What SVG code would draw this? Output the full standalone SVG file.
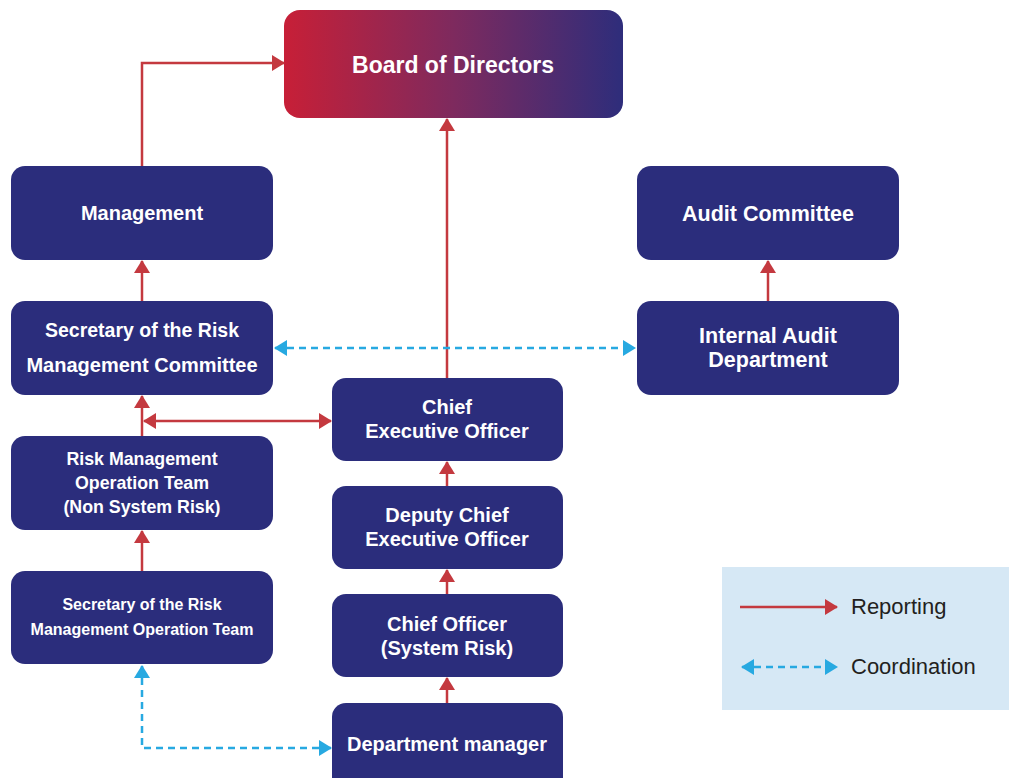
<svg xmlns="http://www.w3.org/2000/svg" width="1009" height="778" viewBox="0 0 1009 778">
<defs>
<linearGradient id="bod" x1="0" y1="0" x2="1" y2="0">
<stop offset="0" stop-color="#C71F37"/>
<stop offset="0.5" stop-color="#7E2A5E"/>
<stop offset="1" stop-color="#2E2D7B"/>
</linearGradient>
<marker id="ar" markerUnits="userSpaceOnUse" markerWidth="14" markerHeight="16" refX="12" refY="8" orient="auto-start-reverse" viewBox="0 0 14 16">
<path d="M0,0 L13,8 L0,16 Z" fill="#C4393F"/>
</marker>
<marker id="ab" markerUnits="userSpaceOnUse" markerWidth="14" markerHeight="16" refX="12" refY="8" orient="auto-start-reverse" viewBox="0 0 14 16">
<path d="M0,0 L13,8 L0,16 Z" fill="#27A9E1"/>
</marker>
</defs>
<style>
.box{fill:#2B2D7C}
.t{font-family:"Liberation Sans",Arial,sans-serif;font-weight:bold;fill:#fff;text-anchor:middle}
.rep{fill:none;stroke:#C4393F;stroke-width:2.5}
.coo{fill:none;stroke:#27A9E1;stroke-width:2.5;stroke-dasharray:7,5}
.lg{font-family:"Liberation Sans",Arial,sans-serif;font-size:22px;fill:#231F20}
</style>
<rect width="1009" height="778" fill="#fff"/>
<g id="board"><rect x="284" y="10" width="339" height="108" rx="16" fill="url(#bod)"/><text class="t" x="453" y="73" font-size="23">Board of Directors</text></g>
<g id="management"><rect class="box" x="11" y="166" width="262" height="94" rx="14"/><text class="t" x="142" y="220" font-size="20">Management</text></g>
<g id="audit-committee"><rect class="box" x="637" y="166" width="262" height="94" rx="14"/><text class="t" x="768" y="221" font-size="21.5">Audit Committee</text></g>
<g id="sec-rmc"><rect class="box" x="11" y="301" width="262" height="94" rx="14"/><text class="t" x="142" y="337" font-size="19.5">Secretary of the Risk</text><text class="t" x="142" y="372" font-size="20">Management Committee</text></g>
<g id="internal-audit"><rect class="box" x="637" y="301" width="262" height="94" rx="14"/><text class="t" x="768" y="343" font-size="21.5">Internal Audit</text><text class="t" x="768" y="367" font-size="21.5">Department</text></g>
<g id="ceo"><rect class="box" x="332" y="378" width="231" height="83" rx="14"/><text class="t" x="447" y="414" font-size="20">Chief</text><text class="t" x="447" y="438" font-size="20">Executive Officer</text></g>
<g id="rmot"><rect class="box" x="11" y="436" width="262" height="94" rx="14"/><text class="t" x="142" y="465" font-size="17.8">Risk Management</text><text class="t" x="142" y="489" font-size="17.8">Operation Team</text><text class="t" x="142" y="513" font-size="17.8">(Non System Risk)</text></g>
<g id="deputy-ceo"><rect class="box" x="332" y="486" width="231" height="83" rx="14"/><text class="t" x="447" y="522" font-size="20">Deputy Chief</text><text class="t" x="447" y="546" font-size="20">Executive Officer</text></g>
<g id="sec-rmot"><rect class="box" x="11" y="571" width="262" height="93" rx="14"/><text class="t" x="142" y="610" font-size="16">Secretary of the Risk</text><text class="t" x="142" y="635" font-size="16">Management Operation Team</text></g>
<g id="chief-officer"><rect class="box" x="332" y="594" width="231" height="83" rx="14"/><text class="t" x="447" y="631" font-size="20">Chief Officer</text><text class="t" x="447" y="655" font-size="20">(System Risk)</text></g>
<g id="dept-manager"><rect class="box" x="332" y="703" width="231" height="95" rx="14"/><text class="t" x="447" y="751" font-size="20">Department manager</text></g>
<g id="connectors">
<path class="rep" d="M142,166 V63 H284" marker-end="url(#ar)"/>
<path class="rep" d="M142,301 V261" marker-end="url(#ar)"/>
<path class="rep" d="M447,378 V119" marker-end="url(#ar)"/>
<path class="rep" d="M768,301 V261" marker-end="url(#ar)"/>
<path class="rep" d="M142,436 V396" marker-end="url(#ar)"/>
<path class="rep" d="M144,421 H331" marker-start="url(#ar)" marker-end="url(#ar)"/>
<path class="rep" d="M447,486 V462" marker-end="url(#ar)"/>
<path class="rep" d="M447,594 V570" marker-end="url(#ar)"/>
<path class="rep" d="M447,703 V678" marker-end="url(#ar)"/>
<path class="rep" d="M142,571 V531" marker-end="url(#ar)"/>
<path class="coo" d="M275,348 H635" marker-start="url(#ab)" marker-end="url(#ab)"/>
<path class="coo" d="M142,666 V748 H331" marker-start="url(#ab)" marker-end="url(#ab)"/>
</g>
<g id="legend">
<rect x="722" y="567" width="287" height="143" fill="#D6E8F5"/>
<path class="rep" d="M740,607 H837" marker-end="url(#ar)"/>
<text class="lg" x="851" y="614">Reporting</text>
<path class="coo" d="M742,667 H837" marker-start="url(#ab)" marker-end="url(#ab)"/>
<text class="lg" x="851" y="674">Coordination</text>
</g>
</svg>
